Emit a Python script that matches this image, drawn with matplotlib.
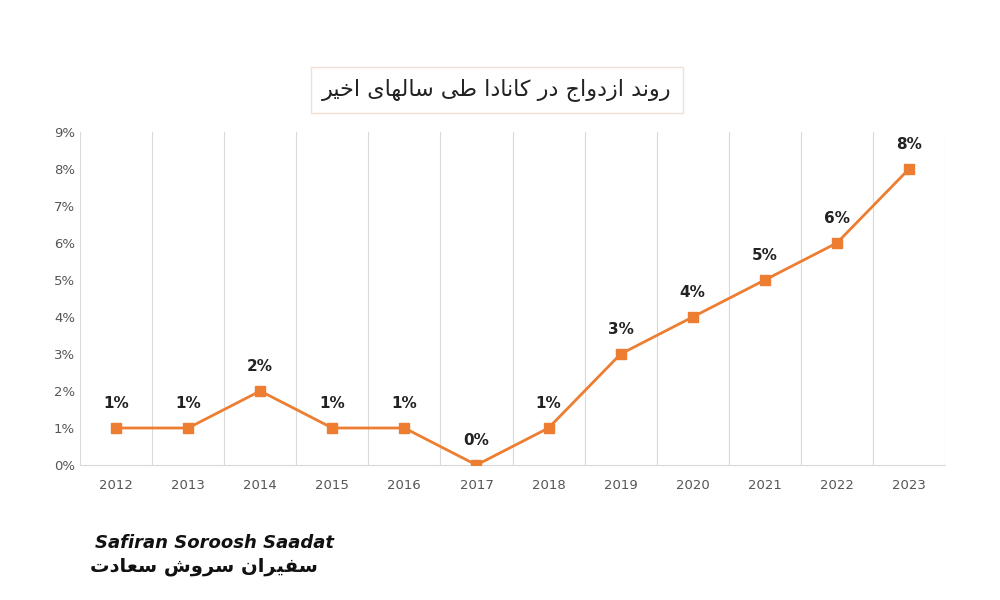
import matplotlib
matplotlib.use("Agg")
import matplotlib.pyplot as plt
from matplotlib.ticker import FuncFormatter

years = ["2012", "2013", "2014", "2015", "2016", "2017", "2018", "2019", "2020", "2021", "2022", "2023"]
rates = [1, 1, 2, 1, 1, 0, 1, 3, 4, 5, 6, 8]
title_fa = "روند ازدواج در کانادا طی سالهای اخیر"
logo_fa = "سفیران سروش سعادت"
logo_en = "Safiran Soroosh Saadat"

ORANGE = "#ED7D31"
GRID = "#D9D9D9"

# minimal Persian shaping (matplotlib has no bidi/shaping)
FORMS = {  # iso, fin, ini, med
    "ا": (0xFE8D, 0xFE8E, None, None), "د": (0xFEA9, 0xFEAA, None, None),
    "ر": (0xFEAD, 0xFEAE, None, None), "ز": (0xFEAF, 0xFEB0, None, None),
    "و": (0xFEED, 0xFEEE, None, None),
    "ن": (0xFEE5, 0xFEE6, 0xFEE7, 0xFEE8), "ج": (0xFE9D, 0xFE9E, 0xFE9F, 0xFEA0),
    "ک": (0xFB8E, 0xFB8F, 0xFB90, 0xFB91), "ط": (0xFEC1, 0xFEC2, 0xFEC3, 0xFEC4),
    "ی": (0xFBFC, 0xFBFD, 0xFBFE, 0xFBFF), "س": (0xFEB1, 0xFEB2, 0xFEB3, 0xFEB4),
    "ل": (0xFEDD, 0xFEDE, 0xFEDF, 0xFEE0), "ه": (0xFEE9, 0xFEEA, 0xFEEB, 0xFEEC),
    "خ": (0xFEA5, 0xFEA6, 0xFEA7, 0xFEA8), "ف": (0xFED1, 0xFED2, 0xFED3, 0xFED4),
    "ش": (0xFEB5, 0xFEB6, 0xFEB7, 0xFEB8), "ع": (0xFEC9, 0xFECA, 0xFECB, 0xFECC),
    "ت": (0xFE95, 0xFE96, 0xFE97, 0xFE98),
}


def shape(text):
    out = []
    for i, ch in enumerate(text):
        if ch not in FORMS:
            out.append(ch)
            continue
        prev = text[i - 1] if i > 0 else " "
        nxt = text[i + 1] if i + 1 < len(text) else " "
        join_prev = prev in FORMS and FORMS[prev][2] is not None
        join_next = nxt in FORMS and FORMS[ch][2] is not None
        iso, fin, ini, med = FORMS[ch]
        if join_prev and join_next:
            code = med
        elif join_prev:
            code = fin
        elif join_next:
            code = ini
        else:
            code = iso
        out.append(chr(code))
    return "".join(out)[::-1]


plt.rcParams["font.family"] = "DejaVu Sans"
fig = plt.figure(figsize=(10, 6), dpi=100)
ax = fig.add_axes([0.08, 0.225, 0.865, 0.555])

x = list(range(len(years)))
ax.plot(x, rates, color=ORANGE, lw=2, marker="s", ms=7, zorder=3)
for xi, v in zip(x, rates):
    ax.text(xi, v + 0.45, "%d%%" % v, ha="center", va="bottom",
            fontsize=11, fontweight="bold", color="#222222")

ax.set_xlim(-0.5, len(years) - 0.5)
ax.set_ylim(0, 9)
ax.set_yticks(range(10))
ax.yaxis.set_major_formatter(FuncFormatter(lambda v, p: "%d%%" % v))
ax.set_xticks(x)
ax.set_xticklabels(years)
for b in [i - 0.5 for i in range(len(years) + 1)]:
    ax.axvline(b, color=GRID, lw=0.8, zorder=0)
for s in ["top", "right", "left"]:
    ax.spines[s].set_visible(False)
ax.spines["bottom"].set_color(GRID)
ax.tick_params(length=0, colors="#555555", labelsize=9.5)
ax.tick_params(axis="x", pad=10)
for lab in ax.get_xticklabels():
    lab.set_fontfamily("DejaVu Sans")

fig.text(0.497, 0.85, shape(title_fa), ha="center", va="center", fontsize=16,
         color="#222222",
         bbox=dict(boxstyle="square,pad=0.5", fc="white", ec="#F2E0D5", lw=1))

fig.text(0.095, 0.095, logo_en, fontsize=13, fontweight="bold", style="italic",
         color="#111111", ha="left", va="center")
fig.text(0.09, 0.055, shape(logo_fa), fontsize=14, fontweight="bold",
         color="#111111", ha="left", va="center")

fig.savefig("out.png", dpi=100, facecolor="white")
